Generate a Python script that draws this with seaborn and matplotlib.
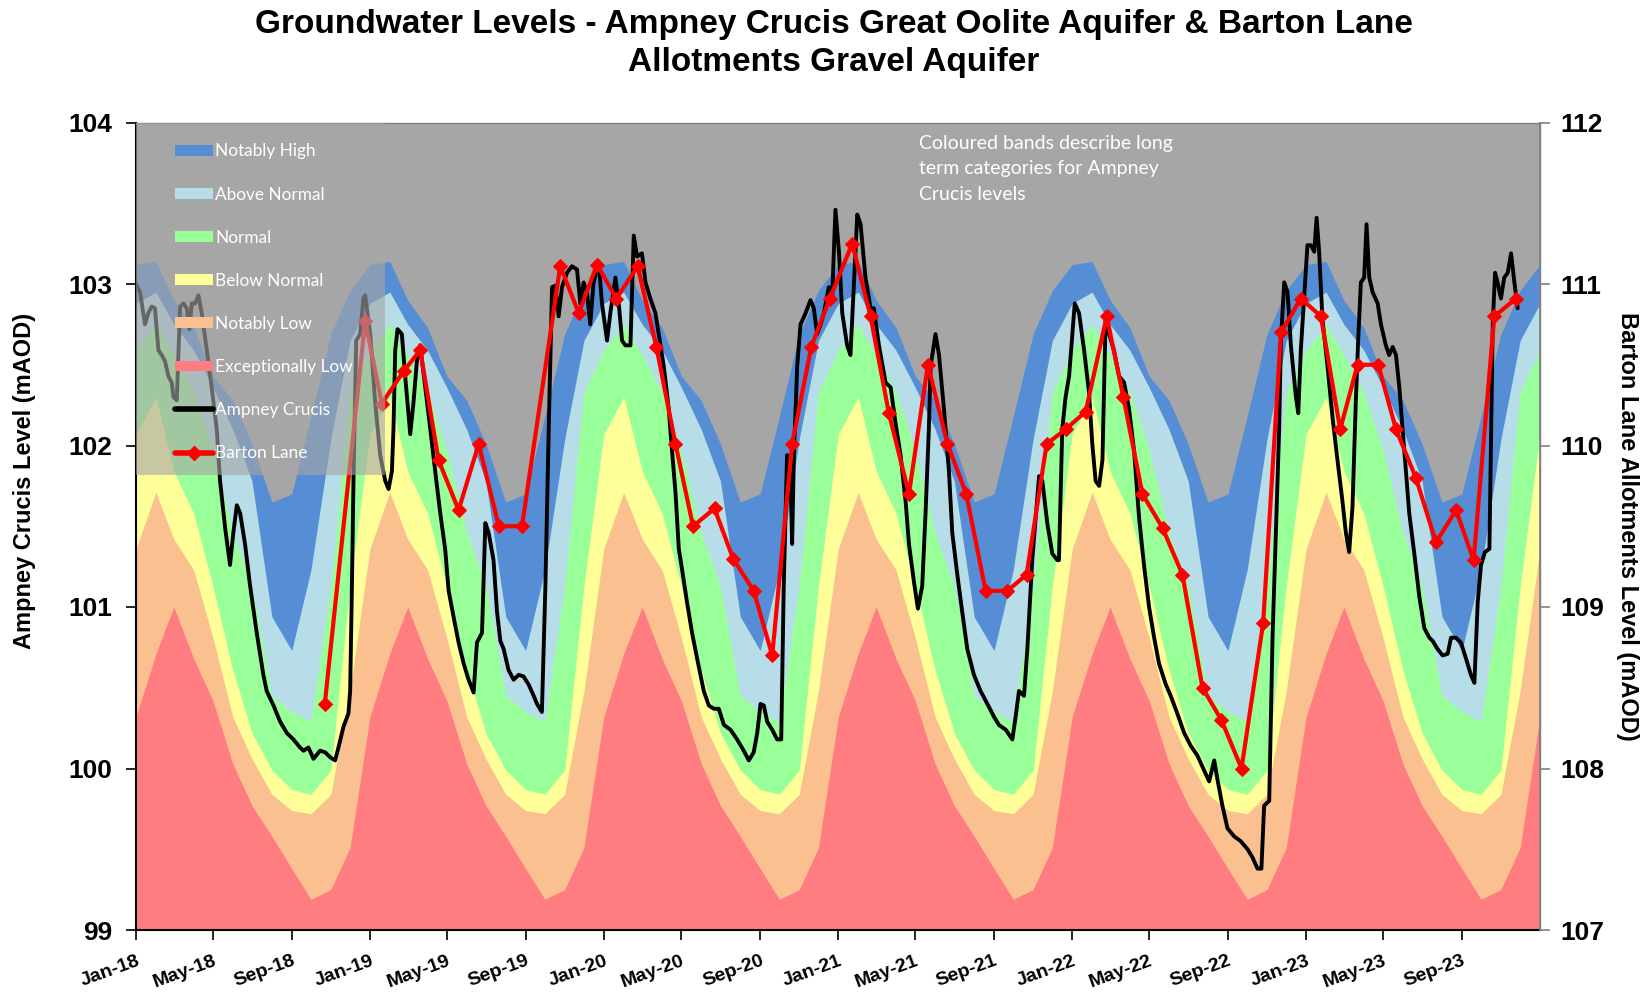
import numpy as np
import pandas as pd
import matplotlib
matplotlib.use("Agg")
import matplotlib.pyplot as plt
import matplotlib.dates as mdates
from matplotlib.patches import Patch, Rectangle
from matplotlib.lines import Line2D
import seaborn as sns

# Long term category band tops (mAOD) for each calendar month, Jan..Dec
nh_top = [103.12, 103.14, 102.90, 102.73, 102.43, 102.28, 102.01, 101.65, 101.70, 102.18, 102.69, 102.96]
an_top = [102.88, 102.95, 102.75, 102.59, 102.36, 102.10, 101.78, 100.94, 100.73, 101.23, 102.04, 102.65]
n_top = [102.59, 102.75, 102.56, 102.33, 101.97, 101.46, 101.13, 100.45, 100.35, 100.29, 101.13, 102.33]
bn_top = [102.07, 102.30, 101.84, 101.58, 101.13, 100.61, 100.22, 99.99, 99.87, 99.84, 99.99, 101.13]
nl_top = [101.36, 101.71, 101.42, 101.23, 100.81, 100.32, 100.06, 99.84, 99.74, 99.72, 99.84, 100.48]
el_top = [100.32, 100.71, 101.00, 100.68, 100.42, 100.03, 99.77, 99.58, 99.38, 99.19, 99.25, 99.51]

band_names = ["Notably High", "Above Normal", "Normal", "Below Normal",
              "Notably Low", "Exceptionally Low"]
band_colors = ["#558ED5", "#B7DEE8", "#99FF99", "#FFFF99", "#FAC090", "#FF7C80"]

# Ampney Crucis level: months since Jan 2018, level (mAOD)
ac_month = [0.0, 0.21, 0.46, 0.63, 0.80, 0.97, 1.15, 1.32, 1.49, 1.66, 1.83, 1.92, 2.09, 2.26, 2.43,
            2.60, 2.74, 2.86, 3.03, 3.20, 3.37, 3.63, 3.88, 4.14, 4.31, 4.57, 4.82, 4.99, 5.17, 5.34,
            5.59, 5.85, 6.19, 6.53, 6.70, 7.05, 7.39, 7.73, 8.07, 8.41, 8.59, 8.84, 9.10, 9.44, 9.70,
            9.95, 10.21, 10.38, 10.64, 10.89, 10.98, 11.07, 11.15, 11.29, 11.49, 11.66,
            11.75, 12.01, 12.26, 12.52, 12.78, 12.95, 13.12, 13.20, 13.29, 13.41, 13.63, 13.80, 14.06,
            14.23, 14.40, 14.57, 14.83, 15.09, 15.34, 15.60, 15.85, 16.03, 16.28, 16.54, 16.80, 17.05,
            17.31, 17.48, 17.74, 17.91, 18.08, 18.33, 18.51, 18.68, 18.85, 19.10, 19.36, 19.62, 19.87,
            20.13, 20.39, 20.56, 20.81, 20.99, 21.16, 21.33, 21.50, 21.67, 21.84, 22.10, 22.35, 22.61,
            22.78, 22.95, 23.12, 23.29, 23.46, 23.72,
            23.89, 24.15, 24.32, 24.58, 24.75, 24.92, 25.09, 25.35, 25.52, 25.69, 25.94, 26.12, 26.37,
            26.63, 26.80, 27.06, 27.31, 27.48, 27.66, 27.83, 28.00, 28.25, 28.51, 28.77, 29.11, 29.37,
            29.62, 29.88, 30.14, 30.48, 30.82, 31.16, 31.42, 31.67, 31.85, 32.02, 32.19, 32.36, 32.62,
            32.87, 33.08, 33.21, 33.38, 33.56, 33.64, 33.73, 33.90, 34.07, 34.33, 34.58, 34.75, 34.92,
            35.10, 35.27, 35.52,
            35.69, 35.86, 36.04, 36.21, 36.46, 36.63, 36.80, 36.98, 37.15, 37.40, 37.66, 37.83, 38.09,
            38.43, 38.69, 38.94, 39.20, 39.46, 39.63, 39.88, 40.09, 40.31, 40.48, 40.65, 40.74, 40.99,
            41.17, 41.42, 41.68, 41.85, 42.11, 42.36, 42.62, 42.96, 43.30, 43.65, 43.99, 44.24, 44.59,
            44.93, 45.10, 45.27, 45.53, 45.70, 45.95, 46.30, 46.47, 46.72, 46.98, 47.24,
            47.32, 47.49, 47.66, 47.84, 48.01, 48.13, 48.35, 48.61, 48.86, 49.03, 49.20, 49.38, 49.55,
            49.72, 49.89, 50.14, 50.40, 50.66, 50.91, 51.17, 51.43, 51.68, 51.94, 52.20, 52.45, 52.80,
            53.05, 53.39, 53.74, 54.08, 54.42, 54.76, 55.02, 55.28, 55.45, 55.70, 55.96, 56.30, 56.64,
            56.99, 57.24, 57.50, 57.70, 57.84, 58.10, 58.27, 58.44, 58.61, 58.70, 58.87, 59.04,
            59.21, 59.47, 59.59, 59.72, 59.89, 60.06, 60.24, 60.41, 60.53, 60.66, 60.83, 61.09, 61.35,
            61.60, 61.86, 62.03, 62.20, 62.37, 62.54, 62.66, 62.80, 62.97, 63.09, 63.23, 63.40, 63.66,
            63.83, 64.08, 64.25, 64.43, 64.60, 64.77, 64.94, 65.11, 65.28, 65.54, 65.79, 66.05, 66.31,
            66.48, 66.73, 66.99, 67.25, 67.42, 67.67, 67.93, 68.19, 68.44, 68.62, 68.79, 68.96, 69.16,
            69.39, 69.56, 69.68, 69.81, 69.98, 70.15, 70.33, 70.50, 70.67, 70.84]
ac_level = [103.00, 102.95, 102.75, 102.82, 102.86, 102.85, 102.59, 102.56, 102.52, 102.43, 102.39, 102.30, 102.28, 102.86, 102.88,
            102.85, 102.72, 102.88, 102.88, 102.93, 102.82, 102.59, 102.36, 102.10, 101.78, 101.49, 101.26, 101.46, 101.63, 101.58,
            101.39, 101.13, 100.84, 100.58, 100.48, 100.39, 100.29, 100.22, 100.18, 100.13, 100.11, 100.13, 100.06, 100.11, 100.10,
            100.07, 100.05, 100.13, 100.26, 100.34, 100.48, 101.13, 101.78, 102.65, 102.69, 102.91,
            102.93, 102.69, 102.27, 101.94, 101.78, 101.73, 101.84, 102.10, 102.59, 102.72, 102.69, 102.43, 102.07,
            102.27, 102.52, 102.62, 102.36, 102.10, 101.84, 101.58, 101.36, 101.10, 100.94, 100.78, 100.65, 100.55,
            100.47, 100.78, 100.84, 101.52, 101.46, 101.29, 100.97, 100.79, 100.74, 100.61, 100.55, 100.58, 100.57,
            100.52, 100.45, 100.40, 100.35, 101.13, 102.10, 102.98, 102.99, 102.80, 102.98, 103.07, 103.11, 103.09,
            102.88, 103.01, 102.95, 102.75, 103.01, 103.14,
            102.88, 102.65, 102.82, 103.04, 102.88, 102.65, 102.62, 102.62, 103.30, 103.17, 103.19, 103.01, 102.91,
            102.82, 102.69, 102.49, 102.23, 101.97, 101.71, 101.36, 101.23, 101.03, 100.84, 100.68, 100.48, 100.39,
            100.37, 100.37, 100.27, 100.24, 100.18, 100.11, 100.05, 100.10, 100.22, 100.40, 100.39, 100.29, 100.24,
            100.18, 100.18, 101.13, 101.94, 101.78, 101.39, 101.94, 102.49, 102.75, 102.82, 102.90, 102.85, 102.69,
            102.75, 102.82, 102.98,
            102.91, 103.46, 103.20, 102.82, 102.62, 102.56, 102.98, 103.43, 103.37, 103.04, 102.85, 102.85, 102.62,
            102.39, 102.36, 102.14, 101.94, 101.65, 101.39, 101.16, 100.99, 101.13, 101.58, 102.10, 102.49, 102.69,
            102.56, 102.23, 101.84, 101.46, 101.20, 100.97, 100.74, 100.58, 100.48, 100.40, 100.32, 100.27, 100.24,
            100.18, 100.32, 100.48, 100.45, 100.74, 101.29, 101.81, 101.78, 101.52, 101.33, 101.29,
            101.29, 102.10, 102.30, 102.43, 102.69, 102.88, 102.82, 102.59, 102.33, 102.01, 101.78, 101.75, 101.91,
            102.82, 102.69, 102.59, 102.43, 102.39, 102.23, 101.97, 101.55, 101.26, 101.00, 100.81, 100.65, 100.52,
            100.45, 100.34, 100.22, 100.14, 100.08, 99.99, 99.92, 100.05, 99.93, 99.77, 99.63, 99.58, 99.55,
            99.50, 99.45, 99.38, 99.38, 99.77, 99.80, 100.81, 101.46, 102.10, 102.65, 103.01, 102.95,
            102.62, 102.30, 102.20, 102.59, 102.91, 103.24, 103.24, 103.20, 103.41, 103.20, 102.78, 102.49, 102.17,
            101.91, 101.65, 101.46, 101.34, 101.62, 102.27, 102.65, 103.01, 103.04, 103.37, 103.04, 102.95, 102.88,
            102.75, 102.62, 102.56, 102.61, 102.56, 102.36, 102.10, 101.84, 101.58, 101.33, 101.07, 100.87, 100.81,
            100.79, 100.74, 100.70, 100.71, 100.81, 100.81, 100.78, 100.68, 100.58, 100.53, 101.03, 101.26, 101.34,
            101.36, 102.75, 103.07, 103.01, 102.91, 103.04, 103.07, 103.19, 103.01, 102.85]

# Barton Lane level: months since Jan 2018, level (mAOD)
bl_month = [9.68, 11.75, 12.60, 13.72, 14.57, 15.51, 16.54, 17.57, 18.60, 19.79, 21.75, 22.70, 23.64,
            24.63, 25.72, 26.68, 27.66, 28.56, 29.66, 30.61, 31.67, 32.62, 33.64, 34.62, 35.57,
            36.72, 37.66, 38.60, 39.63, 40.60, 41.60, 42.57, 43.56, 44.67, 45.66, 46.69, 47.66,
            48.69, 49.77, 50.62, 51.60, 52.63, 53.65, 54.68, 55.65, 56.68, 57.79, 58.70, 59.72,
            60.75, 61.74, 62.63, 63.69, 64.60, 65.62, 66.65, 67.68, 68.58, 69.64, 70.75]
bl_level = [108.40, 110.77, 110.26, 110.46, 110.59, 109.91, 109.60, 110.01, 109.50, 109.50, 111.11, 110.82, 111.12,
            110.91, 111.11, 110.61, 110.01, 109.50, 109.61, 109.30, 109.10, 108.70, 110.01, 110.61, 110.91,
            111.25, 110.80, 110.20, 109.70, 110.50, 110.01, 109.70, 109.10, 109.10, 109.20, 110.01, 110.10,
            110.21, 110.80, 110.30, 109.70, 109.49, 109.20, 108.50, 108.30, 108.00, 108.90, 110.70, 110.91,
            110.80, 110.10, 110.50, 110.50, 110.10, 109.80, 109.40, 109.60, 109.29, 110.80, 110.91]

start = pd.Timestamp("2018-01-01")
ac_dates = start + pd.to_timedelta(np.array(ac_month) * 30.4375, unit="D")
bl_dates = start + pd.to_timedelta(np.array(bl_month) * 30.4375, unit="D")
band_dates = pd.date_range("2018-01-01", "2024-01-01", freq="MS")
tick_dates = pd.date_range("2018-01-01", "2023-09-01", freq="4MS")


def tile_year(vals):
    return np.array(list(vals) * 6 + [vals[0]])


band_tops = [tile_year(v) for v in [nh_top, an_top, n_top, bn_top, nl_top, el_top]]

sns.set_theme(style="white")
plt.rcParams["font.family"] = ["Liberation Sans", "DejaVu Sans"]
plt.rcParams["text.color"] = "black"
plt.rcParams["axes.labelcolor"] = "black"
plt.rcParams["xtick.color"] = "black"
plt.rcParams["ytick.color"] = "black"

fig = plt.figure(figsize=(16.42, 9.93), dpi=100)
ax = fig.add_axes([136 / 1642, 1 - 930 / 993, 1404 / 1642, 807.5 / 993])
ax.set_facecolor("#A6A6A6")

for top, col in zip(band_tops, band_colors):
    ax.fill_between(band_dates, 98, top, color=col, lw=0, zorder=1)

sns.lineplot(x=ac_dates, y=ac_level, ax=ax, color="black", lw=2.8, sort=False,
             estimator=None, zorder=3)

ax2 = ax.twinx()
sns.lineplot(x=bl_dates, y=bl_level, ax=ax2, color="#FF0000", lw=3, marker="D",
             markersize=7, markeredgecolor="#FF0000", sort=False, estimator=None, zorder=4)

ax.set_ylim(99, 104)
ax2.set_ylim(107, 112)
ax.set_xlim(pd.Timestamp("2018-01-01"), pd.Timestamp("2024-01-01"))
ax2.set_xlim(pd.Timestamp("2018-01-01"), pd.Timestamp("2024-01-01"))
ax.set_yticks(range(99, 105))
ax2.set_yticks(range(107, 113))

ax.set_xticks(tick_dates)
ax.xaxis.set_major_formatter(mdates.DateFormatter("%b-%y"))

ax.tick_params(axis="x", which="major", direction="out", length=7, width=1.2, color="black",
               labelsize=14, pad=9, bottom=True)
ax.tick_params(axis="y", direction="out", length=7, width=1.2, color="black", labelsize=19,
               left=True, pad=10)
ax2.tick_params(axis="y", direction="out", length=7, width=1.2, color="#808080", labelsize=19,
                right=True, pad=8)
for lab in ax.get_xticklabels():
    lab.set_rotation(20)
    lab.set_ha("right")
    lab.set_rotation_mode("anchor")
    lab.set_fontweight("bold")
for lab in ax.get_yticklabels() + ax2.get_yticklabels():
    lab.set_fontweight("bold")

ax.set_xlabel("")
ax2.set_xlabel("")
ax.set_ylabel("Ampney Crucis Level (mAOD)", fontsize=17, fontweight="bold")
ax2.set_ylabel("Barton Lane Allotments Level (mAOD)", fontsize=17, fontweight="bold",
               rotation=270, va="bottom")
ax.yaxis.set_label_coords(-0.071, 0.556)
ax2.yaxis.set_label_coords(1.054, 0.5)

for side in ["left", "bottom"]:
    ax.spines[side].set_color("black")
    ax.spines[side].set_linewidth(1.5)
for side in ["top", "right"]:
    ax.spines[side].set_color("#808080")
    ax.spines[side].set_linewidth(1)
for side in ["left", "bottom", "top"]:
    ax2.spines[side].set_visible(False)
ax2.spines["right"].set_color("#808080")

# legend overlay box
ax2.add_patch(Rectangle((0, 0.564), 0.177, 0.436, transform=ax2.transAxes,
                        facecolor="#A6A6A6", alpha=0.62, lw=0, zorder=8))
handles = [Patch(facecolor=c, edgecolor="none") for c in band_colors]
handles += [Line2D([], [], color="black", lw=4),
            Line2D([], [], color="#FF0000", lw=4, marker="D", markersize=7)]
labels = band_names + ["Ampney Crucis", "Barton Lane"]
leg = ax2.legend(handles, labels, loc="upper left", bbox_to_anchor=(0.019, 0.989),
                 frameon=False, labelspacing=1.575, handlelength=2.2, handleheight=0.6,
                 handletextpad=0.15, borderpad=0.2, prop={"family": "Lato", "size": 12.4})
leg.set_zorder(9)
for t in leg.get_texts():
    t.set_color("white")

ax2.text(0.558, 0.985, "Coloured bands describe long\nterm categories for Ampney\nCrucis levels",
         transform=ax2.transAxes, ha="left", va="top", color="white", fontsize=14,
         family="Lato", linespacing=1.62, zorder=9)

fig.text(0.508, 0.991, "Groundwater Levels - Ampney Crucis Great Oolite Aquifer & Barton Lane\n"
         "Allotments Gravel Aquifer", ha="center", va="top", fontsize=24, fontweight="bold",
         linespacing=1.3, color="black")

fig.savefig("out.png", dpi=100)
